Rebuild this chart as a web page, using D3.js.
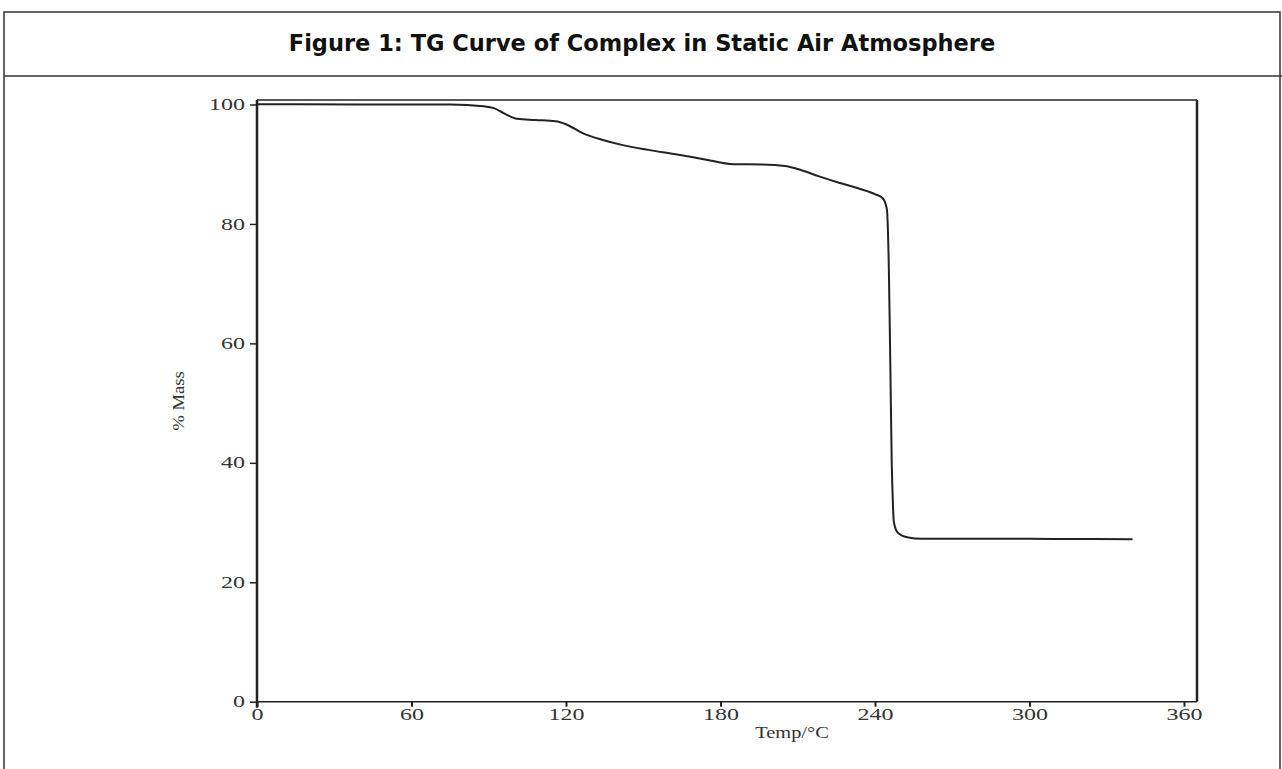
<!DOCTYPE html>
<html>
<head>
<meta charset="utf-8">
<script src="https://cdn.jsdelivr.net/npm/d3@7"></script>
<style>
  body { margin: 0; background: #fff; }
  svg { display: block; }
  .tick text { font-family: "Liberation Serif", "DejaVu Serif", serif; font-size: 16px; fill: #333; }
  .axis-label { font-family: "Liberation Serif", serif; font-size: 17px; fill: #333; }
  .title { font-family: "DejaVu Sans", Verdana, sans-serif; font-weight: bold; font-size: 22.5px; fill: #111; }
</style>
</head>
<body>
<script>

// TG curve
var temps = [0, 40, 75, 88, 92, 96, 101, 108, 116, 120, 126, 134, 142, 152, 162, 174, 185, 196, 205, 210, 218, 226, 234, 240, 243, 244.6, 245.4, 246.0, 246.5, 246.9, 247.3, 248.5, 250.5, 253, 258, 280, 310, 340];
var masses = [100.05, 100, 100, 99.7, 99.4, 98.5, 97.6, 97.4, 97.2, 96.7, 95.3, 94.1, 93.2, 92.4, 91.7, 90.8, 90.0, 89.95, 89.7, 89.2, 88.0, 86.9, 85.9, 85.0, 84.3, 82.5, 72, 55, 40, 33.8, 30.2, 28.5, 27.8, 27.5, 27.3, 27.3, 27.25, 27.2];

var xTicks = [0, 60, 120, 180, 240, 300, 360];
var yTicks = [0, 20, 40, 60, 80, 100];

var titleText = "Figure 1: TG Curve of Complex in Static Air Atmosphere";

var W = 1282, H = 769;
var stretch = 1.5; // tick digits in the source are drawn wide

var svg = d3.select("body").append("svg")
  .attr("width", W)
  .attr("height", H);

// outer box + title row
svg.append("rect")
  .attr("x", 4).attr("y", 12)
  .attr("width", 1276).attr("height", 800)
  .attr("fill", "none").attr("stroke", "#333").attr("stroke-width", 1.5);
svg.append("line")
  .attr("x1", 4).attr("x2", 1282)
  .attr("y1", 76).attr("y2", 76)
  .attr("stroke", "#333").attr("stroke-width", 1.5);
svg.append("text")
  .attr("class", "title")
  .attr("x", 642).attr("y", 51)
  .attr("text-anchor", "middle")
  .text(titleText);

var x = d3.scaleLinear().domain([0, 360]).range([257, 1184]);
var y = d3.scaleLinear().domain([0, 100]).range([701.7, 104.5]);
var xEnd = 1197, yTop = 100;

var g = svg.append("g");

// frame: right and top
g.append("line")
  .attr("x1", xEnd).attr("x2", xEnd).attr("y1", yTop).attr("y2", y(0))
  .attr("stroke", "#222").attr("stroke-width", 2.5);
g.append("line")
  .attr("x1", x(0)).attr("x2", xEnd).attr("y1", yTop).attr("y2", yTop)
  .attr("stroke", "#222").attr("stroke-width", 1.5);

var xAxis = g.append("g")
  .attr("transform", "translate(0," + y(0) + ")")
  .call(d3.axisBottom(x).tickValues(xTicks).tickSize(5).tickSizeOuter(0).tickPadding(2));
xAxis.select(".domain").remove();
xAxis.append("line")
  .attr("x1", x(0)).attr("x2", xEnd)
  .attr("stroke", "#222").attr("stroke-width", 1.5);
xAxis.selectAll(".tick line").attr("stroke", "#222").attr("stroke-width", 2);
xAxis.selectAll(".tick text").attr("transform", "scale(" + stretch + ",1)");

var yAxis = g.append("g")
  .attr("transform", "translate(" + x(0) + ",0)")
  .call(d3.axisLeft(y).tickValues(yTicks).tickSize(7).tickSizeOuter(0).tickPadding(5));
yAxis.select(".domain").remove();
yAxis.append("line")
  .attr("y1", yTop).attr("y2", y(0) + 6)
  .attr("stroke", "#222").attr("stroke-width", 2.5);
yAxis.selectAll(".tick line").attr("stroke", "#222").attr("stroke-width", 1.5);
yAxis.selectAll(".tick text")
  .attr("x", -12 / stretch)
  .attr("transform", "scale(" + stretch + ",1)");

g.append("text")
  .attr("class", "axis-label")
  .attr("transform", "translate(792,738) scale(1.2,1)")
  .attr("text-anchor", "middle")
  .text("Temp/°C");

g.append("text")
  .attr("class", "axis-label")
  .attr("transform", "translate(184,401) rotate(-90) scale(1.1,1)")
  .attr("text-anchor", "middle")
  .text("% Mass");

var pts = temps.map(function (t, i) { return [t, masses[i]]; });

var line = d3.line()
  .x(function (d) { return x(d[0]); })
  .y(function (d) { return y(d[1]); })
  .curve(d3.curveMonotoneX);

g.append("path")
  .datum(pts)
  .attr("d", line)
  .attr("fill", "none")
  .attr("stroke", "#222")
  .attr("stroke-width", 2);

</script>
</body>
</html>
